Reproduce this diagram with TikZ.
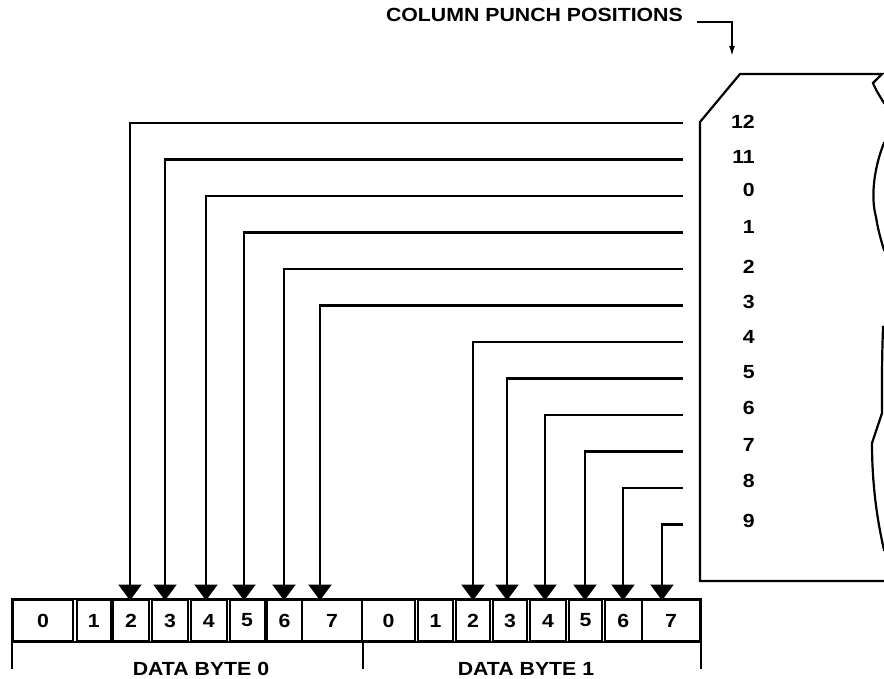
\documentclass[tikz,border=0pt]{standalone}
\usepackage{fontspec}
\setmainfont{Liberation Sans}[FakeStretch=1.12]
\usepackage{tikz}
\usetikzlibrary{arrows.meta}

\begin{document}
\begin{tikzpicture}[
    x=1pt, y=-1pt,
    txt/.style={inner sep=0pt, font=\bfseries\fontsize{19}{21}\selectfont},
    cell/.style={draw, line width=2pt, inner sep=0pt, minimum height=41pt,
                 font=\bfseries\fontsize{19}{21}\selectfont},
    wire/.style={line width=2.2pt},
    feed/.style={-{Triangle[length=16pt, width=23pt]}, line width=2.2pt},
    ptr/.style={-{Latex[length=10pt, width=6pt]}, line width=1.6pt}
]
\useasboundingbox (0,0) rectangle (884,679);

\node[txt, anchor=east] (title) at (683,15) {COLUMN PUNCH POSITIONS};
\coordinate (ptrA) at (697,22);
\coordinate (ptrB) at (732,56);
\draw[ptr] (ptrA) -| (ptrB);

% card outline, torn on the right
\draw[wire] (700,581) -- (700,122) -- (740,74) -- (882,74) -- (873,83)
    .. controls (876,90) .. (884,103) -- (890,103) -- (890,140) -- (884,143)
    .. controls (875,165) and (870,195) .. (876,217)
    .. controls (878,230) and (881,240) .. (884,250) -- (890,250) -- (890,325)
    -- (883,327) .. controls (882,360) .. (882,413) -- (872,443)
    .. controls (872,480) and (876,515) .. (884,550) -- (890,550) -- (890,581) -- cycle;

\foreach \p/\y in {12/122, 11/157, 0/190, 1/227, 2/267, 3/302, 4/337, 5/372,
                   6/408, 7/445, 8/481, 9/521}
    \node[txt, anchor=east] (r\p) at (755,\y) {\p};

\foreach \n/\l/\r in {0/13/73, 1/77/110.5, 2/113/149, 3/152/188, 4/190.5/227,
                      5/229.5/264.5, 6/267/302, 7/302/362} {
    \pgfmathsetmacro\w{\r-\l}
    \pgfmathsetmacro\c{(\r+\l)/2}
    \node[cell, minimum width=\w pt] (a\n) at (\c,620.5) {\n};
}
\foreach \n/\l/\r in {0/362/415, 1/418/453, 2/456/490, 3/493/527, 4/530/566,
                      5/569/602, 6/604.5/642, 7/642/700} {
    \pgfmathsetmacro\w{\r-\l}
    \pgfmathsetmacro\c{(\r+\l)/2}
    \node[cell, minimum width=\w pt] (b\n) at (\c,620.5) {\n};
}
\draw[wire] (a0.north west) rectangle (b7.south east);

\foreach \p/\y/\x in {12/123/130, 11/159.5/165, 0/196/206, 1/232.5/244,
                      2/269/284, 3/305.5/320, 4/342/473, 5/378.5/507,
                      6/415/545, 7/451.5/585, 8/488/623, 9/524.5/662} {
    \coordinate (e\p) at (683,\y);
    \coordinate (t\p) at (\x,600.5);
    \draw[feed] (e\p) -| (t\p);
}

\draw[wire] (a0.south west) -- ++(0,27);
\draw[wire] (a7.south east) -- ++(0,27);
\draw[wire] (b7.south east) -- ++(0,27);
\node[txt] (byte0) at (201,669) {DATA BYTE 0};
\node[txt] (byte1) at (526,669) {DATA BYTE 1};
\end{tikzpicture}
\end{document}
